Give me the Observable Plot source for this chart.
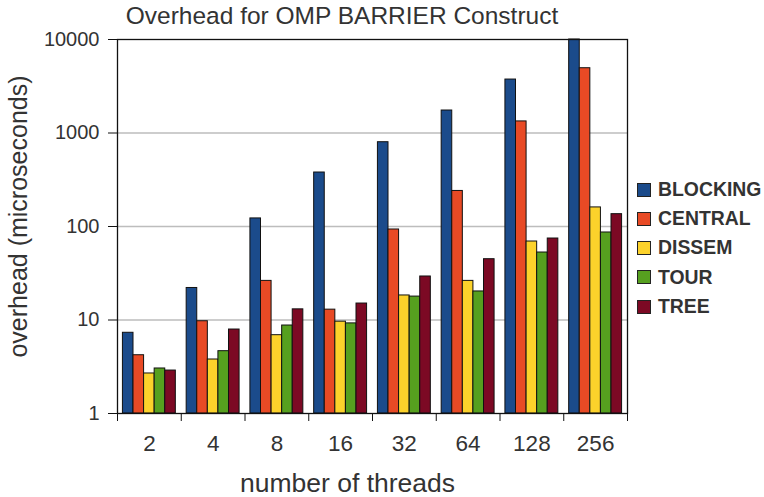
<!DOCTYPE html>
<html>
<head>
<meta charset="utf-8">
<script src="https://cdn.jsdelivr.net/npm/d3@7"></script>
<script src="https://cdn.jsdelivr.net/npm/@observablehq/plot@0.6"></script>
<style>
  body { margin: 0; background: #fff; }
  #chart { position: relative; width: 764px; height: 497px; overflow: hidden;
           font-family: "Liberation Sans", Arial, sans-serif; color: #333; }
  #chart svg.plot { position: absolute; left: 0; top: 0; }
  .title { position: absolute; left: 0; width: 684px; top: 4.3px; text-align: center;
           font-size: 24.5px; line-height: 24.5px; white-space: nowrap; }
  .xlabel { position: absolute; left: 0; width: 695px; top: 469.5px; text-align: center;
            font-size: 26.5px; line-height: 26.5px; white-space: nowrap; }
  .ylabel { position: absolute; width: 400px; left: -181.7px; top: 203.5px; text-align: center;
            font-size: 25px; line-height: 25px; white-space: nowrap; transform: rotate(-90deg); }
  .legend { position: absolute; left: 637px; top: 175px; }
  .legend .row { display: flex; align-items: center; height: 29.25px; }
  .legend .sw { width: 12px; height: 12px; border: 1px solid #222; margin-right: 7px; }
  .legend .lab { font-weight: bold; font-size: 19.4px; line-height: 19.4px; color: #333; }
</style>
</head>
<body>
<div id="chart"></div>
<script>
// Barrier overhead (microseconds) per thread count, one array per algorithm
const threads = ["2", "4", "8", "16", "32", "64", "128", "256"];
const series = ["BLOCKING", "CENTRAL", "DISSEM", "TOUR", "TREE"];
const colors = ["#1b4b8b", "#e84a25", "#fcd22b", "#56a01f", "#7c0924"];
const blocking = [7.3, 22, 122, 378, 797, 1740, 3730, 10000];
const central  = [4.2, 9.7, 26.2, 12.9, 92.9, 240, 1330, 4930];
const dissem   = [2.68, 3.78, 6.88, 9.6, 18.3, 26.2, 69.1, 160];
const tour     = [3.03, 4.64, 8.73, 9.2, 17.8, 20.2, 52.7, 86.3];
const tree     = [2.88, 7.91, 13.0, 15.0, 29.2, 44.7, 74.4, 135.5];
const yTicks = [1, 10, 100, 1000, 10000];

const values = [blocking, central, dissem, tour, tree];
const rows = [];
threads.forEach((t, g) => {
  series.forEach((s, k) => {
    rows.push({g, k, thread: t, series: s, value: values[k][g]});
  });
});

// Each thread group spans one unit on x; bars sit side by side inside it
const groupPad = 0.085;
const barW = (1 - 2 * groupPad) / series.length;

const chart = Plot.plot({
  width: 764,
  height: 497,
  marginLeft: 117,
  marginRight: 137,
  marginTop: 39,
  marginBottom: 84,
  style: { fontFamily: "Liberation Sans, Arial, sans-serif", color: "#333", background: "#fff" },
  x: { domain: [0, threads.length], axis: null },
  y: { type: "log", domain: [1, 10000], axis: null },
  color: { domain: series, range: colors },
  marks: [
    Plot.gridY(yTicks.slice(1, -1), { stroke: "#bdbdbd", strokeOpacity: 1, strokeWidth: 1.5 }),
    Plot.rect(rows, {
      x1: d => d.g + groupPad + d.k * barW,
      x2: d => d.g + groupPad + (d.k + 1) * barW,
      y1: 1,
      y2: "value",
      fill: "series",
      stroke: "#111",
      strokeWidth: 1
    }),
    Plot.frame({ stroke: "#111", strokeWidth: 1.3 }),
    Plot.axisY(yTicks, {
      tickSize: 9, tickPadding: 9, fontSize: 20, stroke: "#111",
      tickFormat: d => String(d), label: null
    }),
    Plot.axisX(d3.range(0, threads.length + 1), {
      tickSize: 8, stroke: "#111", tickFormat: () => "", label: null
    }),
    Plot.axisX(threads.map((t, i) => i + 0.5), {
      tickSize: 0, tickPadding: 22, fontSize: 22.5,
      tickFormat: d => threads[Math.floor(d)], label: null
    })
  ]
});
chart.classList.add("plot");

const root = document.getElementById("chart");
root.appendChild(chart);

const title = document.createElement("div");
title.className = "title";
title.textContent = "Overhead for OMP BARRIER Construct";
root.appendChild(title);

const xl = document.createElement("div");
xl.className = "xlabel";
xl.textContent = "number of threads";
root.appendChild(xl);

const yl = document.createElement("div");
yl.className = "ylabel";
yl.textContent = "overhead (microseconds)";
root.appendChild(yl);

const legend = document.createElement("div");
legend.className = "legend";
series.forEach((s, i) => {
  const row = document.createElement("div");
  row.className = "row";
  const sw = document.createElement("div");
  sw.className = "sw";
  sw.style.background = colors[i];
  const lab = document.createElement("div");
  lab.className = "lab";
  lab.textContent = s;
  row.appendChild(sw);
  row.appendChild(lab);
  legend.appendChild(row);
});
root.appendChild(legend);
</script>
</body>
</html>
